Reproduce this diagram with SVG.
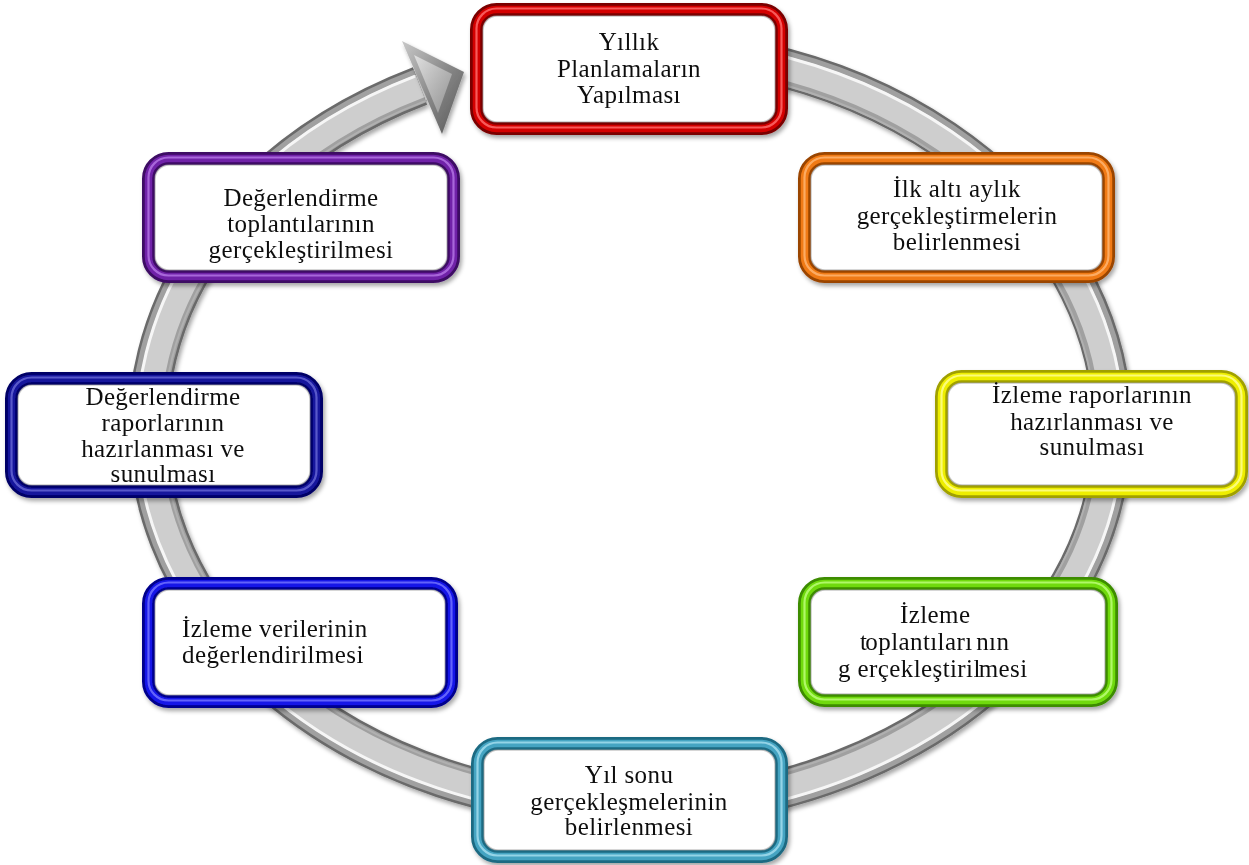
<svg xmlns="http://www.w3.org/2000/svg" width="1249" height="865" viewBox="0 0 1249 865">
<defs>
<filter id="sh" x="-10%" y="-10%" width="125%" height="130%">
<feDropShadow dx="2" dy="3" stdDeviation="2.2" flood-color="#000" flood-opacity="0.35"/>
</filter>
<linearGradient id="headG" x1="0" y1="0" x2="1" y2="1">
<stop offset="0" stop-color="#c8c8c8"/>
<stop offset="0.5" stop-color="#8a8a8a"/>
<stop offset="1" stop-color="#555"/>
</linearGradient>
<linearGradient id="headF" x1="0" y1="0" x2="1" y2="1">
<stop offset="0" stop-color="#e8e8e8"/>
<stop offset="1" stop-color="#999"/>
</linearGradient>
<style>
.t{font-family:"Liberation Serif","Times New Roman",serif;font-size:25px;fill:#111;letter-spacing:0.4px}
.m{text-anchor:middle}
.o{fill:none;stroke-width:13}
.c{fill:none;stroke-width:7.5}
.h{fill:none;stroke-width:2.2;opacity:0.8}
.w{fill:#fff;stroke:#9a9a9a;stroke-opacity:0.55;stroke-width:1.5}
.ring{fill:none}
</style>
</defs>
<rect width="1249" height="865" fill="#fff"/>

<g id="connectors">
<g filter="url(#sh)">
<path class="ring" d="M 760 62 A 482 380 0 1 1 420 86" stroke="#6a6a6a" stroke-width="40"/>
</g>
<path class="ring" d="M 760 62 A 482 380 0 1 1 420 86" stroke="#a0a0a0" stroke-width="35"/>
<path class="ring" d="M 760 62 A 482 380 0 1 1 420 86" stroke="#cecece" stroke-width="24"/>
<path class="ring" d="M 763 51.5 A 493 391 0 1 1 415.2 76.1" stroke="#f6f6f6" stroke-width="3"/>
<path class="ring" d="M 756 78 A 466 364 0 1 1 427 100.4" stroke="#b0b0b0" stroke-width="2"/>
<g filter="url(#sh)">
<polygon points="402,41 464,72 442,134" fill="url(#headG)"/>
</g>
<polygon points="414,55 452,74 438,113" fill="url(#headF)" opacity="0.85"/>
</g>

<g id="n1" filter="url(#sh)">
<rect x="476.5" y="9.5" width="305" height="119" rx="20" class="o" stroke="#7a0000"/>
<rect x="476.5" y="9.5" width="305" height="119" rx="20" class="c" stroke="#d40000"/>
<rect x="476.5" y="8.5" width="305" height="119" rx="20" class="h" stroke="#ff7070"/>
<rect x="483" y="16" width="292" height="106" rx="14" class="w"/>
<text class="t m" x="629" y="50">Yıllık</text>
<text class="t m" x="629" y="77">Planlamaların</text>
<text class="t m" x="629" y="103">Yapılması</text>
</g>

<g id="n2" filter="url(#sh)">
<rect x="804.5" y="158.5" width="304" height="118" rx="20" class="o" stroke="#9a4500"/>
<rect x="804.5" y="158.5" width="304" height="118" rx="20" class="c" stroke="#f07a12"/>
<rect x="804.5" y="157.5" width="304" height="118" rx="20" class="h" stroke="#ffb878"/>
<rect x="811" y="165" width="291" height="105" rx="14" class="w"/>
<text class="t m" x="957" y="197">İlk altı aylık</text>
<text class="t m" x="957" y="224">gerçekleştirmelerin</text>
<text class="t m" x="957" y="250">belirlenmesi</text>
</g>

<g id="n3" filter="url(#sh)">
<rect x="941.5" y="376.5" width="300" height="115" rx="20" class="o" stroke="#a0a000"/>
<rect x="941.5" y="376.5" width="300" height="115" rx="20" class="c" stroke="#eeee00"/>
<rect x="941.5" y="375.5" width="300" height="115" rx="20" class="h" stroke="#ffff99"/>
<rect x="948" y="383" width="287" height="102" rx="14" class="w"/>
<text class="t m" x="1092" y="403">İzleme raporlarının</text>
<text class="t m" x="1092" y="430">hazırlanması ve</text>
<text class="t m" x="1092" y="455">sunulması</text>
</g>

<g id="n4" filter="url(#sh)">
<rect x="804.5" y="583.5" width="307" height="117" rx="20" class="o" stroke="#3c8c00"/>
<rect x="804.5" y="583.5" width="307" height="117" rx="20" class="c" stroke="#70da0c"/>
<rect x="804.5" y="582.5" width="307" height="117" rx="20" class="h" stroke="#c0ff80"/>
<rect x="811" y="590" width="294" height="104" rx="14" class="w"/>
<text class="t" x="900" y="623">İzleme</text>
<text class="t" x="860" y="650"><tspan>t</tspan><tspan dx="-2">oplantıları</tspan><tspan dx="-3"> nın</tspan></text>
<text class="t" x="838" y="677"><tspan>g erçekleştiril</tspan><tspan dx="-2">mesi</tspan></text>
</g>

<g id="n5" filter="url(#sh)">
<rect x="477.5" y="743.5" width="304" height="113" rx="20" class="o" stroke="#1e6a82"/>
<rect x="477.5" y="743.5" width="304" height="113" rx="20" class="c" stroke="#45a4c2"/>
<rect x="477.5" y="742.5" width="304" height="113" rx="20" class="h" stroke="#a8e0f0"/>
<rect x="484" y="750" width="291" height="100" rx="14" class="w"/>
<text class="t m" x="629" y="783">Yıl sonu</text>
<text class="t m" x="629" y="810">gerçekleşmelerinin</text>
<text class="t m" x="629" y="835">belirlenmesi</text>
</g>

<g id="n6" filter="url(#sh)">
<rect x="148.5" y="583.5" width="303" height="118" rx="20" class="o" stroke="#00008c"/>
<rect x="148.5" y="583.5" width="303" height="118" rx="20" class="c" stroke="#1414e8"/>
<rect x="148.5" y="582.5" width="303" height="118" rx="20" class="h" stroke="#7878ff"/>
<rect x="155" y="590" width="290" height="105" rx="14" class="w"/>
<text class="t" x="182" y="637">İzleme verilerinin</text>
<text class="t" x="182" y="663">değerlendirilmesi</text>
</g>

<g id="n7" filter="url(#sh)">
<rect x="11.5" y="378.5" width="305" height="113" rx="20" class="o" stroke="#000066"/>
<rect x="11.5" y="378.5" width="305" height="113" rx="20" class="c" stroke="#16169c"/>
<rect x="11.5" y="377.5" width="305" height="113" rx="20" class="h" stroke="#6a6ad6"/>
<rect x="18" y="385" width="292" height="100" rx="14" class="w"/>
<text class="t m" x="163" y="405">Değerlendirme</text>
<text class="t m" x="163" y="431">raporlarının</text>
<text class="t m" x="163" y="457">hazırlanması ve</text>
<text class="t m" x="163" y="482">sunulması</text>
</g>

<g id="n8" filter="url(#sh)">
<rect x="148.5" y="158.5" width="305" height="118" rx="20" class="o" stroke="#3c0864"/>
<rect x="148.5" y="158.5" width="305" height="118" rx="20" class="c" stroke="#7022a8"/>
<rect x="148.5" y="157.5" width="305" height="118" rx="20" class="h" stroke="#b678e6"/>
<rect x="155" y="165" width="292" height="105" rx="14" class="w"/>
<text class="t m" x="301" y="206">Değerlendirme</text>
<text class="t m" x="301" y="232">toplantılarının</text>
<text class="t m" x="301" y="258">gerçekleştirilmesi</text>
</g>
</svg>
